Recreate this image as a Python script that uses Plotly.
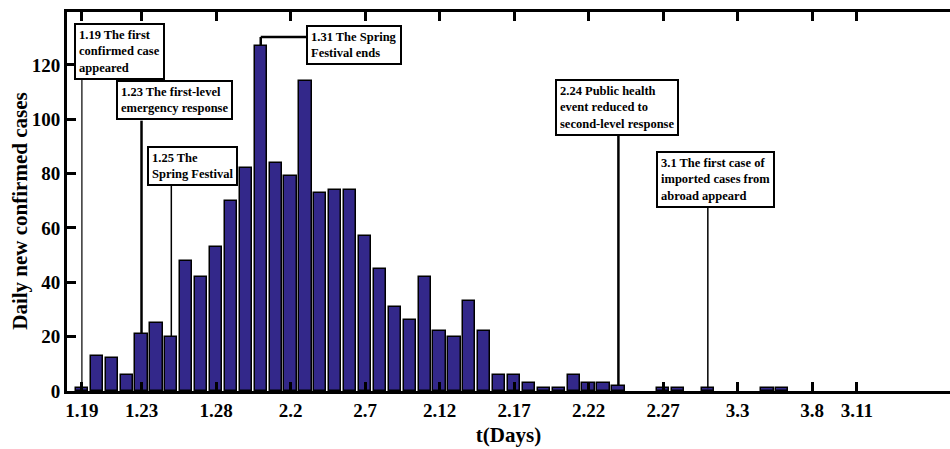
import plotly.graph_objects as go

# ---- data ----
dates = ["1.19","1.20","1.21","1.22","1.23","1.24","1.25","1.26","1.27","1.28","1.29","1.30","1.31",
         "2.1","2.2","2.3","2.4","2.5","2.6","2.7","2.8","2.9","2.10","2.11","2.12","2.13","2.14","2.15",
         "2.16","2.17","2.18","2.19","2.20","2.21","2.22","2.23","2.24","2.25","2.26","2.27","2.28","2.29",
         "3.1","3.2","3.3","3.4","3.5","3.6","3.7","3.8","3.9","3.10","3.11"]
cases = [1,13,12,6,21,25,20,48,42,53,70,82,127,
         84,79,114,73,74,74,57,45,31,26,42,22,20,33,22,
         6,6,3,1,1,6,3,3,2,0,0,1,1,0,
         1,0,0,0,1,1,0,0,0,0,0]
tick_labels = ["1.19","1.23","1.28","2.2","2.7","2.12","2.17","2.22","2.27","3.3","3.8","3.11"]
y_ticks = [0, 20, 40, 60, 80, 100, 120]

events = [
    ("1.19", "1.19 The first<br>confirmed case<br>appeared"),
    ("1.23", "1.23 The first-level<br>emergency response"),
    ("1.25", "1.25 The<br>Spring Festival"),
    ("1.31", "1.31 The Spring<br>Festival ends"),
    ("2.24", "2.24 Public health<br>event reduced to<br>second-level response"),
    ("3.1", "3.1 The first case of<br>imported cases from<br>abroad appeard"),
]
# box placement (left x in day units, top y in case units, bottom y of box, connector width)
box_pos = {
    "1.19": (-0.55, 135.5, 116.5, 1.2),
    "1.23": (2.28, 114.5, 99.5, 2.5),
    "1.25": (4.36, 90.3, 77.0, 1.5),
    "1.31": (15.05, 134.8, None, 2.5),
    "2.24": (31.74, 114.8, 96.0, 2.5),
    "3.1": (38.52, 88.3, 70.0, 1.5),
}

x = list(range(len(dates)))
idx = {d: i for i, d in enumerate(dates)}
y_plot = [v if v > 0 else None for v in cases]

FONT = "Times New Roman, Liberation Serif, Times, serif"
fig = go.Figure()
fig.add_trace(go.Bar(
    x=x, y=y_plot, width=0.82,
    marker=dict(color="#33288a", line=dict(color="black", width=1.5)),
    showlegend=False,
))

shapes = []
annotations = []
for d, label in events:
    i = idx[d]
    v = cases[i]
    bx, by, bbot, lw = box_pos[d]
    annotations.append(dict(
        x=bx, y=by, xref="x", yref="y", xanchor="left", yanchor="top",
        text="<b>" + label + "</b>", showarrow=False, align="left",
        font=dict(family=FONT, size=12.5, color="black"),
        bgcolor="white", bordercolor="black", borderwidth=2, borderpad=3,
    ))
    if bbot is None:
        ymid = 130.3
        shapes.append(dict(type="line", xref="x", yref="y", x0=bx, x1=i, y0=ymid, y1=ymid,
                           line=dict(color="black", width=lw), layer="below"))
        shapes.append(dict(type="line", xref="x", yref="y", x0=i, x1=i, y0=ymid, y1=v,
                           line=dict(color="black", width=lw), layer="below"))
    else:
        shapes.append(dict(type="line", xref="x", yref="y", x0=i, x1=i, y0=bbot, y1=v,
                           line=dict(color="black", width=lw), layer="above"))

# y-axis title as rotated annotation
annotations.append(dict(
    x=-0.0535, y=0.475, xref="paper", yref="paper", xanchor="center", yanchor="middle",
    text="<b>Daily new confirmed cases</b>", textangle=-90, showarrow=False,
    font=dict(family=FONT, size=21, color="black"),
))

fig.update_layout(
    width=950, height=449,
    margin=dict(l=67, r=0, t=12, b=58),
    paper_bgcolor="white", plot_bgcolor="white",
    font=dict(family=FONT, color="black"),
    shapes=shapes, annotations=annotations,
    bargap=0,
)
fig.update_xaxes(
    range=[-1.0, 58.25], tickmode="array",
    tickvals=[idx[t] for t in tick_labels], ticktext=["<b>%s</b>" % t for t in tick_labels],
    ticks="inside", ticklen=9, tickwidth=3, tickcolor="black",
    showline=True, linewidth=3, linecolor="black", mirror="ticks",
    showgrid=False, zeroline=False,
    tickfont=dict(family=FONT, size=19, color="black"),
    title=dict(text="<b>t(Days)</b>", font=dict(family=FONT, size=21, color="black"), standoff=8),
)
fig.update_yaxes(
    range=[0, 139.5], tickmode="array", tickvals=y_ticks,
    ticktext=["<b>%d</b>" % v for v in y_ticks],
    ticks="inside", ticklen=9, tickwidth=3, tickcolor="black",
    showline=True, linewidth=3, linecolor="black", mirror=False,
    showgrid=False, zeroline=False,
    tickfont=dict(family=FONT, size=19, color="black"),
)

fig.write_html("out.html")
